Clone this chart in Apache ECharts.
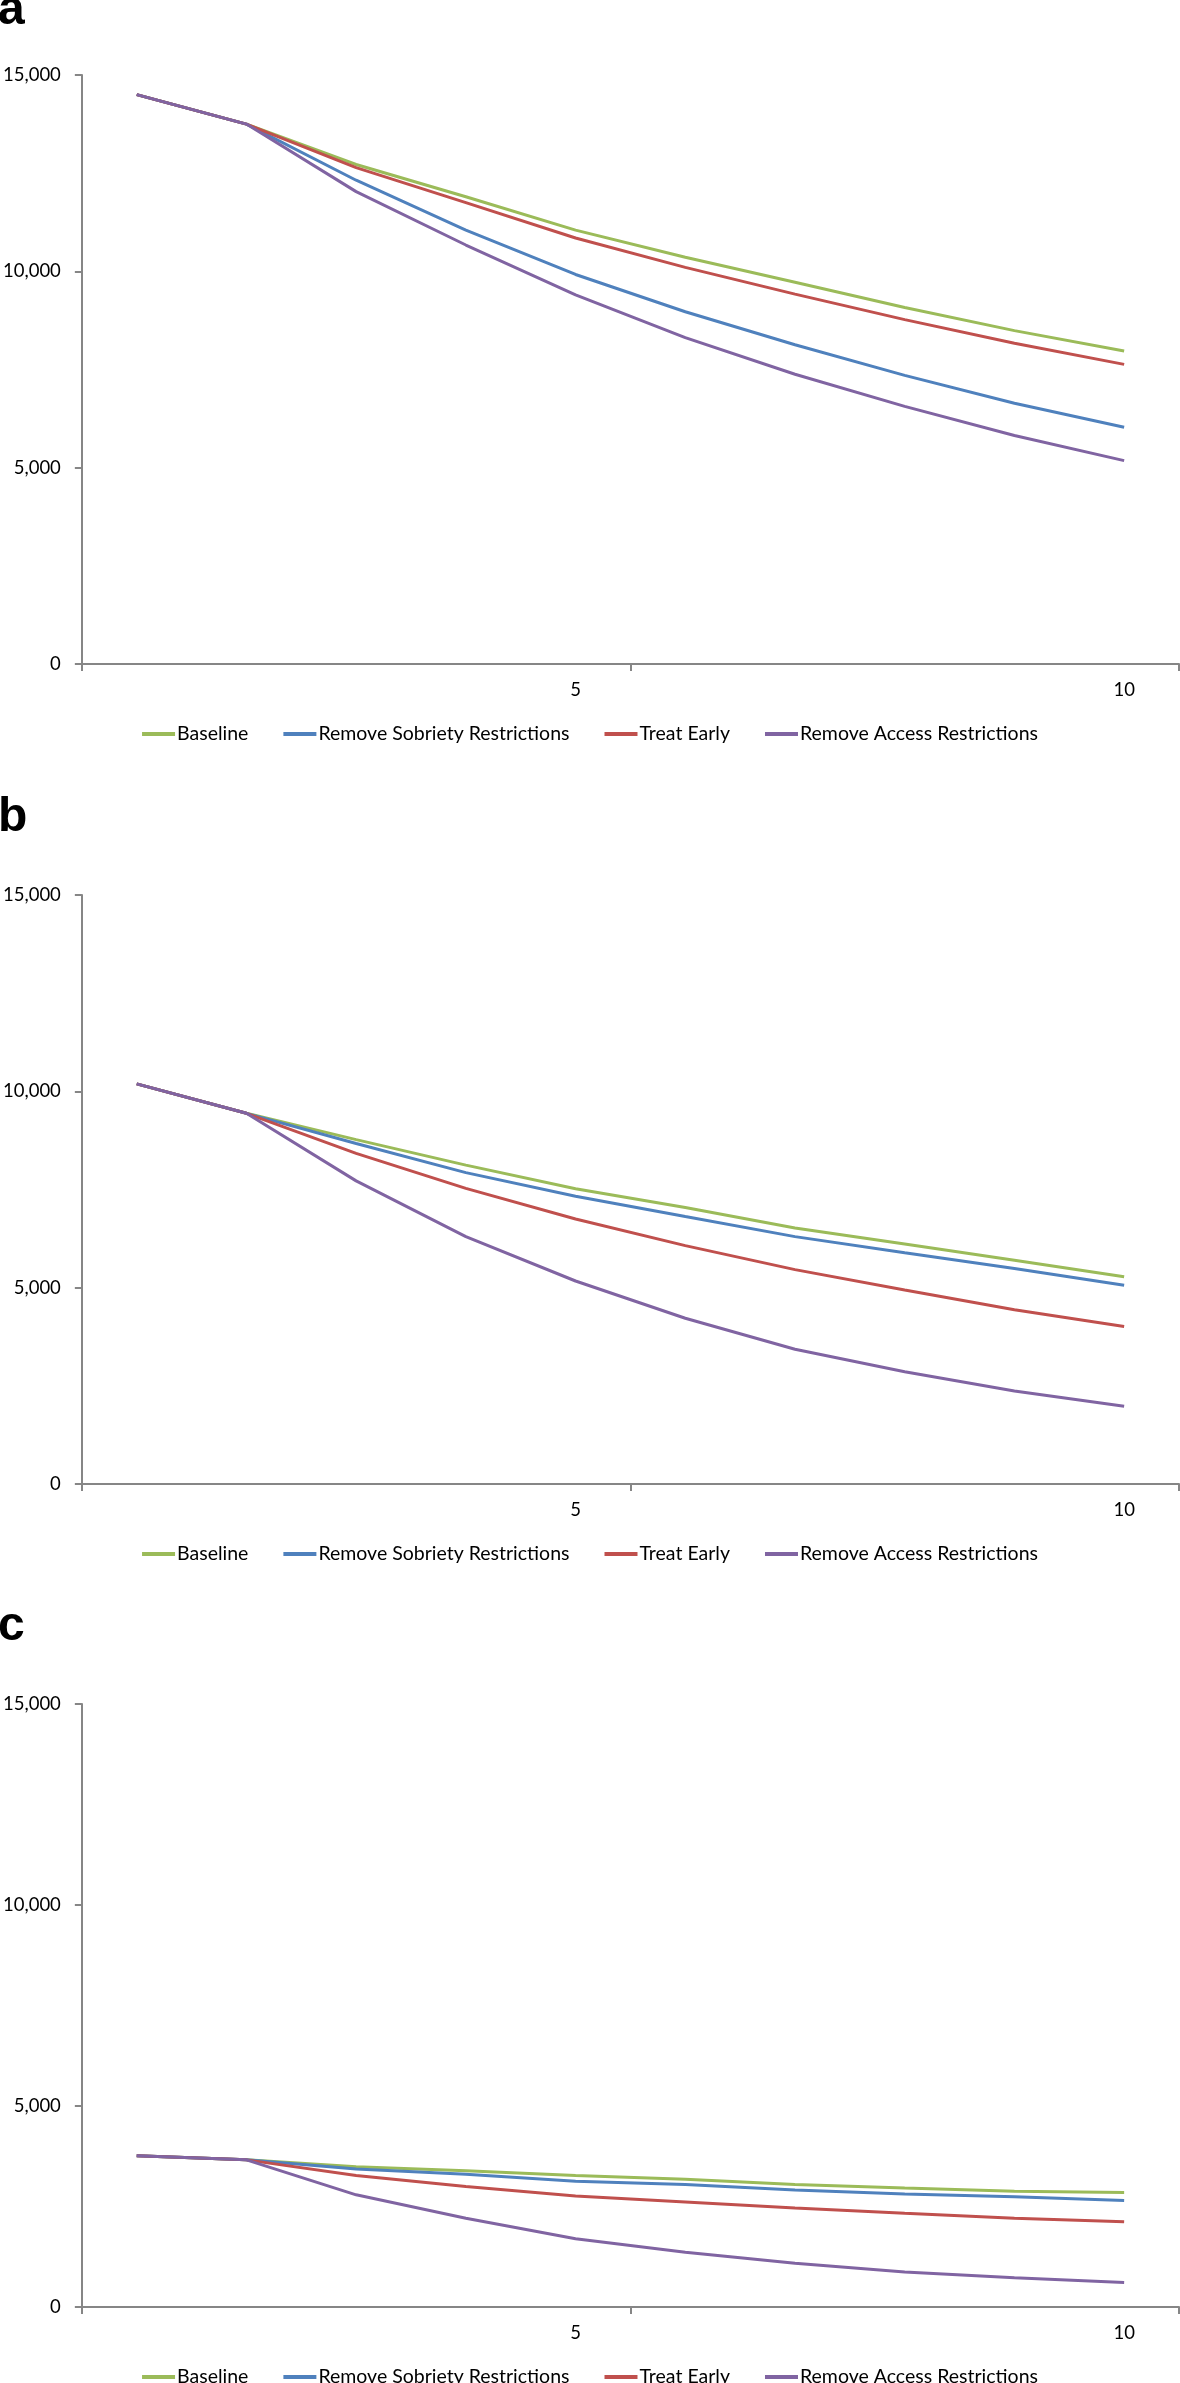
<!DOCTYPE html>
<html><head><meta charset="utf-8">
<script src="https://cdn.jsdelivr.net/npm/echarts@6/dist/echarts.min.js"></script>
<style>html,body{margin:0;padding:0;background:#fff}#c{width:1180px;height:2383px}</style>
</head><body><div id="c"></div><script>
// ---- data ----
var years = ['1','2','3','4','5','6','7','8','9','10'];
var seriesNames = ['Baseline','Remove Sobriety Restrictions','Treat Early','Remove Access Restrictions'];
var panelLabels = ['a','b','c'];
var yTicks = [0, 5000, 10000, 15000];

var aBaseline  = [14500, 13750, 12720, 11900, 11050, 10360, 9720, 9080, 8490, 7970];
var aSobriety  = [14500, 13750, 12320, 11050, 9920, 8970, 8130, 7350, 6640, 6030];
var aTreat     = [14500, 13750, 12640, 11750, 10850, 10100, 9420, 8770, 8170, 7630];
var aAccess    = [14500, 13750, 12030, 10670, 9400, 8310, 7380, 6560, 5820, 5180];

var bBaseline  = [10190, 9440, 8770, 8120, 7520, 7040, 6520, 6110, 5700, 5280];
var bSobriety  = [10190, 9440, 8670, 7930, 7330, 6810, 6300, 5890, 5490, 5060];
var bTreat     = [10190, 9440, 8420, 7530, 6750, 6070, 5460, 4940, 4440, 4010];
var bAccess    = [10190, 9440, 7720, 6300, 5170, 4220, 3430, 2860, 2370, 1980];

var cBaseline  = [3760, 3660, 3490, 3390, 3270, 3180, 3050, 2960, 2880, 2850];
var cSobriety  = [3760, 3660, 3430, 3300, 3130, 3050, 2910, 2810, 2740, 2650];
var cTreat     = [3760, 3660, 3270, 3000, 2760, 2610, 2460, 2330, 2210, 2120];
var cAccess    = [3760, 3660, 2790, 2210, 1700, 1360, 1090, 870, 730, 610];

var panelData = [
  [aBaseline, aSobriety, aTreat, aAccess],
  [bBaseline, bSobriety, bTreat, bAccess],
  [cBaseline, cSobriety, cTreat, cAccess]
];

// ---- styling / layout ----
var colors = ['#9BBB59', '#4F81BD', '#C0504D', '#8064A2'];
var FONT = 'Lato';
var axisColor = '#868686';
var layout = [
  {top: 75,   height: 589, labelY: 11,   legendTop: 719},
  {top: 895,  height: 589, labelY: 818,  legendTop: 1539},
  {top: 1704, height: 603, labelY: 1627, legendTop: 2362}
];

var grids = [], xAxes = [], yAxes = [], series = [], legends = [], graphics = [];
layout.forEach(function (L, p) {
  grids.push({left: 79, right: 1, top: L.top, height: L.height, containLabel: false});
  xAxes.push({
    type: 'category', gridIndex: p, data: years, boundaryGap: true,
    axisLine: {lineStyle: {color: axisColor, width: 2}},
    axisTick: {show: true, interval: 4, length: 7, lineStyle: {color: axisColor, width: 2}},
    axisLabel: {
      interval: function (i) { return i === 4 || i === 9; },
      margin: 17, color: '#000', fontFamily: FONT, fontSize: 18.5
    },
    splitLine: {show: false}
  });
  yAxes.push({
    type: 'value', gridIndex: p, min: yTicks[0], max: yTicks[yTicks.length - 1], interval: 5000,
    axisLine: {show: true, lineStyle: {color: axisColor, width: 2}},
    axisTick: {show: true, length: 7, lineStyle: {color: axisColor, width: 2}},
    axisLabel: {
      margin: 21, color: '#000', fontFamily: FONT, fontSize: 18.5,
      formatter: function (v) { return v.toLocaleString('en-US'); }
    },
    splitLine: {show: false}
  });
  panelData[p].forEach(function (vals, s) {
    series.push({
      name: seriesNames[s], type: 'line', xAxisIndex: p, yAxisIndex: p,
      data: vals, symbol: 'none', smooth: false,
      lineStyle: {color: colors[s], width: 3},
      itemStyle: {color: colors[s]},
      animation: false
    });
  });
  legends.push({
    data: seriesNames, top: L.legendTop, left: 'center',
    icon: 'rect', itemWidth: 33, itemHeight: 4, itemGap: 35,
    textStyle: {fontFamily: FONT, fontSize: 19.5, color: '#000', padding: [0, 0, 0, -3]},
    selectedMode: false
  });
  graphics.push({
    type: 'text', left: -2, top: L.labelY - 24,
    style: {text: panelLabels[p], font: 'bold 48px "Liberation Sans", Arial, sans-serif', fill: '#000'}
  });
});

var chart = echarts.init(document.getElementById('c'), null, {renderer: 'canvas'});
chart.setOption({
  animation: false,
  color: colors,
  grid: grids, xAxis: xAxes, yAxis: yAxes, series: series,
  legend: legends, graphic: graphics
});
</script></body></html>
